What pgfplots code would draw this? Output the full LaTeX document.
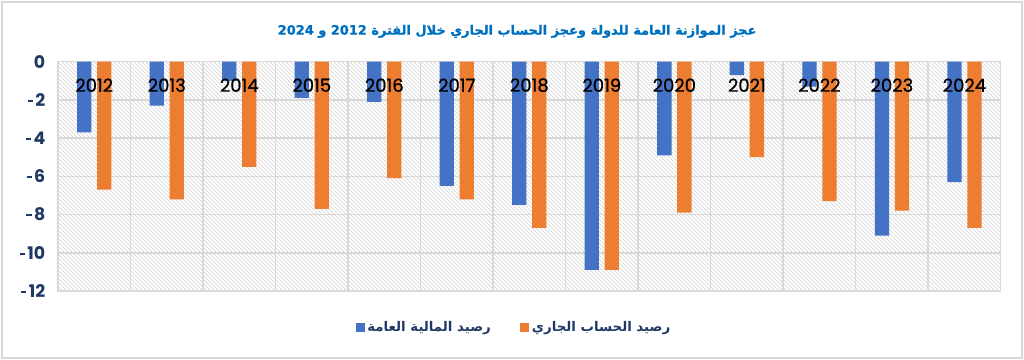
\documentclass[border=0pt]{standalone}
\usepackage{fontspec}
\usepackage{pgfplots}
\pgfplotsset{compat=1.18}
\usetikzlibrary{patterns}
\setmainfont{Poppins}
\TeXXeTstate=1
\newfontfamily\arabicfont[Script=Arabic]{DejaVu Sans}
\newfontfamily\arabictitle[Script=Arabic, FakeBold=1.2]{DejaVu Sans Bold}
\newfontfamily\catfont[FakeBold=0.8]{Poppins}
\definecolor{barblue}{HTML}{4472C4}
\definecolor{barorange}{HTML}{ED7D31}
\definecolor{gridgray}{HTML}{D9D9D9}
\definecolor{navy}{HTML}{1F3864}
\definecolor{titleblue}{HTML}{0070C0}
\newcommand\hy{\rule[0.26em]{0.3em}{0.11em}\kern0.14em}
\begin{document}
\begin{tikzpicture}
\path[use as bounding box] (0pt,0pt) rectangle (768pt,270pt);
\draw[gridgray, line width=1.5pt] (1.5pt,1.5pt) rectangle (766.5pt,268.5pt);
\begin{axis}[
  at={(43.5pt,51.75pt)}, anchor=south west,
  scale only axis, width=707pt, height=172pt,
  xmin=-0.5, xmax=12.5, ymin=-12, ymax=0,
  xtick={0,...,12}, xticklabels={},
  ytick={-12,-10,-8,-6,-4,-2,0},
  yticklabels={\hy12,\hy10,\hy8,\hy6,\hy4,\hy2,0},
  minor xtick={-0.5,0.5,...,12.5},
  ymajorgrids, xminorgrids,
  major grid style={gridgray, line width=1.2pt},
  minor grid style={gridgray, line width=1.2pt},
  axis line style={gridgray, line width=1.2pt},
  major tick length=0pt, minor tick length=0pt,
  tick style={draw=none},
  axis background/.style={pattern=north west lines, pattern color=black!18},
  yticklabel style={font=\bfseries\fontsize{13}{13}\selectfont, text=navy, xshift=-6pt},
  title={\arabictitle\beginR عجز الموازنة العامة للدولة وعجز الحساب الجاري خلال الفترة \beginL 2012\endL{} و \beginL 2024\endL\endR},
  title style={at={(0.487,1.141)}, anchor=center, yshift=-7.5pt, text=titleblue, font=\fontsize{9.7}{12}\selectfont},
  legend image code/.code={\fill[#1] (0pt,-3.4pt) rectangle (6.8pt,3.4pt);},
  legend columns=2,
  legend style={at={(0.484,-0.161)}, anchor=center, draw=none, fill=none,
    font=\arabicfont\bfseries\fontsize{10}{12}\selectfont, text=navy,
    /tikz/every even column/.append style={column sep=20pt}},
]
\addplot[ybar, bar width=10.7pt, bar shift=-7.5pt, fill=barblue, draw=none]
  coordinates {(0,-3.7) (1,-2.3) (2,-1.0) (3,-1.9) (4,-2.1) (5,-6.5) (6,-7.5) (7,-10.9) (8,-4.9) (9,-0.7) (10,-1.3) (11,-9.1) (12,-6.3)};
\addlegendentry{\beginR رصيد المالية العامة\endR}
\addplot[ybar, bar width=10.7pt, bar shift=7.5pt, fill=barorange, draw=none]
  coordinates {(0,-6.7) (1,-7.2) (2,-5.5) (3,-7.7) (4,-6.1) (5,-7.2) (6,-8.7) (7,-10.9) (8,-7.9) (9,-5.0) (10,-7.3) (11,-7.8) (12,-8.7)};
\addlegendentry{\beginR رصيد الحساب الجاري\endR}
\addplot[forget plot, only marks, mark=none, point meta=explicit symbolic,
  nodes near coords,
  every node near coord/.style={anchor=center, text=black, font=\catfont\fontsize{13.5}{14}\selectfont}]
  coordinates {(0,-1.23)[2012] (1,-1.23)[2013] (2,-1.23)[2014] (3,-1.23)[2015] (4,-1.23)[2016] (5,-1.23)[2017] (6,-1.23)[2018] (7,-1.23)[2019] (8,-1.23)[2020] (9,-1.23)[2021] (10,-1.23)[2022] (11,-1.23)[2023] (12,-1.23)[2024]};
\end{axis}
\end{tikzpicture}
\end{document}
